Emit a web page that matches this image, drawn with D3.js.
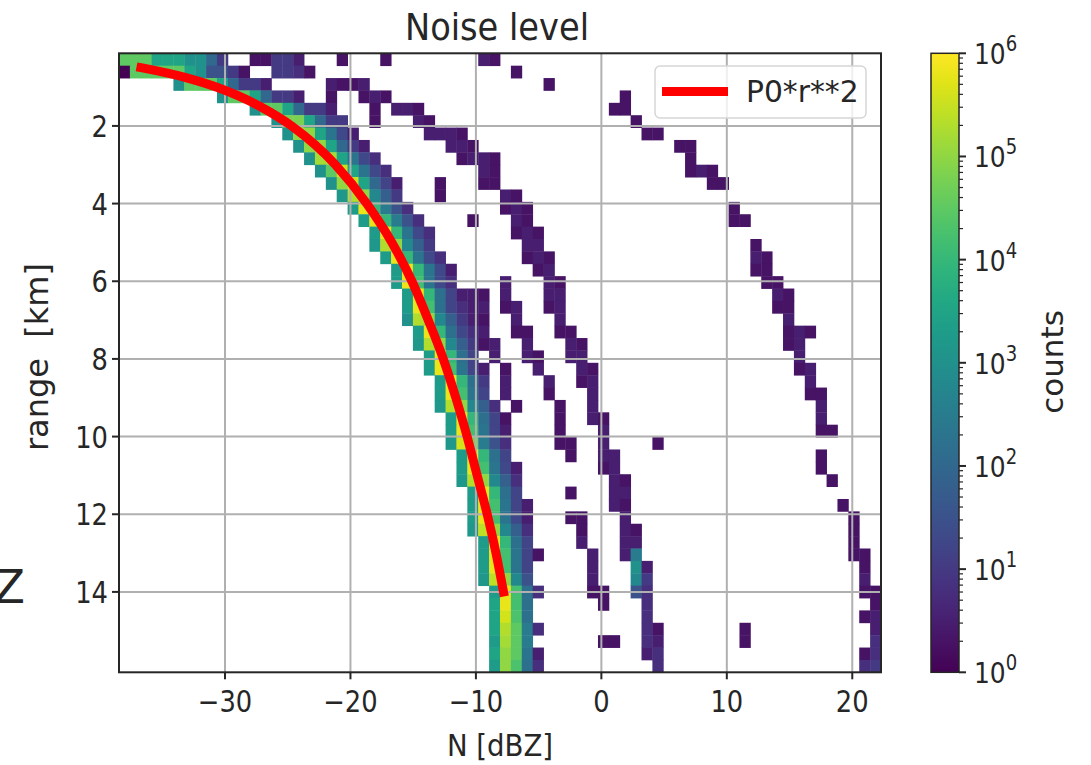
<!DOCTYPE html>
<html><head><meta charset="utf-8">
<script src="https://cdn.jsdelivr.net/npm/d3@7"></script>
<style>
body{margin:0;background:#fff}
text{font-family:"DejaVu Sans",sans-serif;fill:#262626}
</style>
</head><body>
<svg id="chart" width="1091" height="765"></svg>
<script>
// ---------------- data ----------------
const titleText = "Noise level";
const xLabel = "N [dBZ]";
const yLabel = "range  [km]";
const cbarLabel = "counts";
const legendLabel = "P0*r**2";
const nDomain = [-38.45, 22.29];       // N [dBZ] extent of histogram
const rangeDomain = [0.13, 16.07];     // range [km] extent of histogram
const nBinsN = 70, nBinsRange = 50;
const xTicks = [-30, -20, -10, 0, 10, 20];
const yTicks = [2, 4, 6, 8, 10, 12, 14];
const cbarExps = [0, 1, 2, 3, 4, 5, 6];
// log10(counts) per range bin (row), "binIndex:log10count" or "from-to:log10count"
const rowCells = [
 "0-2:4.5 3-5:3.5 6-7:3 8:2 9:1 12:0.3 13:0.3 14:1 15:1 16:0.5 20:0.3 24:0.3 33:0.5 34:0.3",
 "0:0 1-5:4.5 6:3.5 7:3 8-9:1.5 10:1 11:0.3 14:1 15:1 16:0.8 17:0.3 36:0.3",
 "5:3 6-8:4.5 9:3.5 10:2 11-12:1 13:0.5 19:0.5 20-21:0.3 22:0.5 39:0.3",
 "9:3 10-11:4.5 12:3.5 13:2 14-15:1 16:0.5 19:0.3 22:0.3 23:0.5 24:0.3 46:0.3",
 "12:3 13-14:4.5 15:3.5 16:2 17-18:1 19:0.5 23:0.3 25-26:0.5 27:0.3 45-46:0.3",
 "14:3 15-16:4.8 17:3.5 18:2 19-20:1 23:0.3 27:0.5 28:0.3 47:0.3",
 "15:3 16-17:5 18:3.5 19:2.3 20:1.3 21:0.5 28-30:0.5 31:0.3 48-49:0.3",
 "16:3 17-18:5 19:3.5 20:2 21:1 22:0.5 30-31:0.5 32:0.3 51-52:0.3",
 "17:3 18-19:5.2 20:3.5 21:2.3 22:1.3 23:0.8 31:0.3 32-33:0.5 34:0.3 52:0.3",
 "18:3 19:4.5 20:5.5 21:3.5 22:2.3 23:1.3 24:0.8 33:0.5 34:0.3 52:0.3 53:0.5 54:0.3",
 "19:3 20:5 21:5.5 22:3.5 23:2 24:1.2 25:0.5 29:0.3 33-34:0.3 54-55:0.3",
 "20:3.2 21:5.3 22:5 23:2.8 24:1.8 25:1 29:0.3 35:0.5 36:0.3",
 "21:3.3 22:5.8 23:4 24:2.5 25:1.5 26:0.8 35:0.3 36:0.5 37:0.3 56:0.3",
 "22:3.3 23:5.8 24:4 25:2.5 26:1.5 27:0.8 32:0.3 36:0.5 37:0.3 56-57:0.3",
 "23:3.3 24:5.8 25:4 26:2.3 27:1.3 28:0.8 36:0.3 37:0.5 38:0.3",
 "23:3.2 24:5.3 25:5 26:2.8 27:1.8 28:1 37-38:0.5 58:0.3",
 "24:3.3 25:5.8 26:4 27:2.3 28:1.3 29:0.8 37:0.3 38:0.5 39:0.3 58:0.5 59:0.3",
 "25:3.3 26:5.8 27:4 28:2.3 29:1.3 30:0.5 38:0.3 39:0.5 58-59:0.3",
 "25:3.3 26:5.8 27:4.2 28:2.3 29:1.3 30:0.8 35:0.5 39:0.5 40:0.3 59-60:0.3",
 "26:3.3 27:5.8 28:4 29:2.2 30:1.2 31:0.5 32:0.5 33:0.3 35:0.5 39-40:0.5 60:0.5 61:0.3",
 "26:3.3 27:5.8 28:4.2 29:2.2 30:1.2 31:0.8 32-33:0.5 35:0.3 36:0.5 39:0.3 40:0.5 60-61:0.3",
 "26:3 27:5.3 28:5 29:2.8 30:1.8 31:1 32:0.5 33:0.3 36:0.5 40:0.5 61:0.5",
 "27:3.3 28:5.8 29:4 30:2.2 31:1.3 32:0.8 33:0.5 36-37:0.3 40-41:0.3 61:0.3 62:0.5 63:0.3",
 "27:3.2 28:5.3 29:5 30:2.8 31:1.8 32:1 33:0.3 34:0.5 37:0.5 41:0.5 42:0.3 61:0.3 62:0.5",
 "28:3.3 29:5.8 30:4 31:2.2 32:1.2 34:0.5 37:0.5 38:0.3 41-42:0.5 62:0.5",
 "28:3.3 29:5.8 30:4.2 31:2.3 32:1.2 33:0.5 35:0.3 38:0.5 42:0.5 43:0.3 62:0.3 63:0.5",
 "29:3.3 30:5.8 31:4 32:2.2 33:1 35:0.5 39:0.5 42:0.3 43:0.5 63:0.5",
 "29:3.3 30:5.8 31:4.2 32:2.3 33:1.2 35:0.5 39:0.3 43:0.5 63-64:0.3",
 "29:3.2 30:5.3 31:5 32:2.8 33:1.8 34:0.8 36:0.3 40:0.3 43:0.5 64:0.5",
 "30:3.3 31:5.8 32:4 33:2.2 34:1.2 35:0.3 40:0.3 43:0.5 44:0.3 64:0.5",
 "30:3.3 31:5.8 32:4.2 33:2.3 34:1.2 35:0.5 40:0.3 44:0.5 64-65:0.3",
 "30:3.2 31:5.6 32:4.8 33:2.5 34:1.5 35:0.8 40-41:0.3 44:0.5 49:0.3",
 "31:3.3 32:5.8 33:4 34:2.2 35:1.2 41:0.3 44-45:0.5 64:0.3",
 "31:3.3 32:5.8 33:4.2 34:2.3 35:1.3 36:0.5 44:0.3 45:0.5 64:0.3",
 "31:3.2 32:5.3 33:5 34:2.8 35:1.8 36:0.8 45:0.5 46:0.3 65:0.3",
 "32:3.3 33:5.8 34:4 35:2.2 36:1.2 41:0.3 45-46:0.5",
 "32:3.3 33:5.8 34:4.2 35:2.3 36:1.2 37:0.5 45:0.5 46:0.3 66:0.3",
 "32:3.3 33:5.8 34:4.2 35:2.3 36:1.3 37:0.5 41-42:0.3 46:0.5 67:0.3",
 "32:3.2 33:5.4 34:5 35:2.8 36:1.8 37:0.8 42:0.3 46:0.5 47:0.3 67:0.3",
 "33:3.3 34:5.8 35:4 36:2.2 37:1.2 42:0.5 46-47:0.5 67:0.3",
 "33:3.3 34:5.8 35:4.2 36:2.3 37:1.2 38:0.3 43:0.5 46:0.5 47:2.5 67-68:0.3",
 "33:3.3 34:5.8 35:4.2 36:2.3 37:1.2 43:0.5 47:3 48:0.5 68:0.3",
 "33:3.2 34:5.4 35:5 36:2.8 37:1.5 43:0.5 47:2.8 48:1 68:0.5",
 "34:3.3 35:5.8 36:4.2 37:2.2 38:0.8 43-44:0.3 47:1.5 48:0.8 68-69:0.3",
 "34:3.5 35:5.8 36:4.2 37:2.2 44:0.3 48:0.8 69:0.3",
 "34:3.5 35:5.6 36:4.3 37:2.2 48:0.8 68:0.3 69:0.5",
 "34:3.5 35:5.3 36:4.5 37:2.5 38:0.8 48:0.8 49:0.3 57:0.3 69:0.5",
 "34:3.3 35:5.2 36:4.5 37:2.5 44-45:0.3 48:0.8 49:0.5 57:0.3 69:0.8",
 "34:3.5 35:5 36:4.5 37:2.3 38:0.5 48:0.5 49:0.8 68:0.3 69:0.8",
 "34:3.3 35:5 36:4.3 37:2.2 38:0.8 49:0.8 68:0.8 69:1"
];
// fitted curve P0*r**2 (in dB)
const lineRange = [0.5, 0.75, 1, 1.5, 2, 3, 4, 5, 6, 7, 8, 9, 10, 11, 12, 13, 14];
const lineN = [-36.7, -33.2, -30.7, -27.2, -24.7, -21.2, -18.7, -16.7, -15.1, -13.8, -12.6, -11.6, -10.7, -9.9, -9.1, -8.4, -7.8];

// ---------------- layout ----------------
const L = 119, R = 881, T = 53.3, B = 672.3;
const CB = {x0: 931, x1: 959};
const ink = "#262626";

const svg = d3.select("#chart");
const x = d3.scaleLinear().domain(nDomain).range([L, R]);
const y = d3.scaleLinear().domain(rangeDomain).range([T, B]);
const color = d3.scaleSequentialLog(d3.interpolateViridis).domain([1, 1e6]);

const nEdges = d3.range(nBinsN + 1).map(i => nDomain[0] + i * (nDomain[1] - nDomain[0]) / nBinsN);
const rEdges = d3.range(nBinsRange + 1).map(i => rangeDomain[0] + i * (rangeDomain[1] - rangeDomain[0]) / nBinsRange);

const cells = [];
rowCells.forEach((s, iy) => {
  s.trim().split(/\s+/).forEach(tok => {
    const [span, v] = tok.split(":");
    const [a, b] = span.includes("-") ? span.split("-").map(Number) : [Number(span), Number(span)];
    for (let ix = a; ix <= b; ix++) cells.push({ix, iy, lg: +v});
  });
});

function txt(parent, px, py, str, size, anchor, rot, sx) {
  return parent.append("text")
    .attr("transform", `translate(${px},${py})` + (rot ? ` rotate(${rot})` : "") + ` scale(${sx},1)`)
    .attr("text-anchor", anchor || "start")
    .style("font-size", size + "px")
    .style("white-space", "pre")
    .text(str);
}

// cells
svg.append("g").selectAll("rect").data(cells).join("rect")
  .attr("x", d => x(nEdges[d.ix]))
  .attr("y", d => y(rEdges[d.iy]))
  .attr("width", d => x(nEdges[d.ix + 1]) - x(nEdges[d.ix]) + 0.4)
  .attr("height", d => y(rEdges[d.iy + 1]) - y(rEdges[d.iy]) + 0.4)
  .attr("fill", d => color(Math.pow(10, d.lg)));

// grid
const grid = svg.append("g").attr("stroke", "#b0b0b0").attr("stroke-width", 2);
grid.selectAll("line.gx").data(xTicks).join("line")
  .attr("x1", d => x(d)).attr("x2", d => x(d)).attr("y1", T).attr("y2", B);
grid.selectAll("line.gy").data(yTicks).join("line")
  .attr("y1", d => y(d)).attr("y2", d => y(d)).attr("x1", L).attr("x2", R);

// fitted line
const line = d3.line().x((d, i) => x(lineN[i])).y(d => y(d)).curve(d3.curveMonotoneX);
svg.append("path").datum(lineRange)
  .attr("d", line)
  .attr("fill", "none").attr("stroke", "#ff0000").attr("stroke-width", 9)
  .attr("stroke-linecap", "square").attr("stroke-linejoin", "round");

// spines
svg.append("rect").attr("x", L).attr("y", T).attr("width", R - L).attr("height", B - T)
  .attr("fill", "none").attr("stroke", ink).attr("stroke-width", 2);

// axes ticks & labels
const ax = svg.append("g");
xTicks.forEach(v => {
  ax.append("line").attr("x1", x(v)).attr("x2", x(v)).attr("y1", B).attr("y2", B + 7)
    .attr("stroke", ink).attr("stroke-width", 2);
  txt(ax, x(v), 712, v < 0 ? "\u2212" + Math.abs(v) : String(v), 30, "middle", 0, 0.86);
});
yTicks.forEach(v => {
  ax.append("line").attr("y1", y(v)).attr("y2", y(v)).attr("x1", L - 7).attr("x2", L)
    .attr("stroke", ink).attr("stroke-width", 2);
  txt(ax, 108, y(v) + 11, String(v), 30, "end", 0, 0.86);
});
txt(svg, 497, 40, titleText, 37, "middle", 0, 0.91);
txt(svg, 500, 756, xLabel, 31, "middle", 0, 0.89);
txt(svg, 48, 357, yLabel, 32, "middle", -90, 1);

// legend
const lg = svg.append("g");
lg.append("rect").attr("x", 655).attr("y", 66).attr("width", 211).attr("height", 52).attr("rx", 5)
  .attr("fill", "#fff").attr("fill-opacity", 0.8).attr("stroke", "#d6d6d6").attr("stroke-width", 1.5);
lg.append("line").attr("x1", 662).attr("x2", 728).attr("y1", 91.5).attr("y2", 91.5)
  .attr("stroke", "#ff0000").attr("stroke-width", 9);
txt(lg, 746, 102, legendLabel, 31, "start", 0, 0.96);

// colorbar
const defs = svg.append("defs");
const grad = defs.append("linearGradient").attr("id", "vir").attr("x1", 0).attr("x2", 0).attr("y1", 1).attr("y2", 0);
d3.range(0, 1.0001, 0.05).forEach(t => grad.append("stop").attr("offset", t).attr("stop-color", d3.interpolateViridis(t)));
svg.append("rect").attr("x", CB.x0).attr("y", T).attr("width", CB.x1 - CB.x0).attr("height", B - T)
  .attr("fill", "url(#vir)").attr("stroke", ink).attr("stroke-width", 1.5);
const cy = d3.scaleLog().domain([1, 1e6]).range([B, T]);
const cbg = svg.append("g");
cbarExps.forEach(k => {
  const v = Math.pow(10, k);
  cbg.append("line").attr("x1", CB.x1).attr("x2", CB.x1 + 7).attr("y1", cy(v)).attr("y2", cy(v))
    .attr("stroke", ink).attr("stroke-width", 2);
  if (k < 6) d3.range(2, 10).forEach(m => {
    cbg.append("line").attr("x1", CB.x1).attr("x2", CB.x1 + 4).attr("y1", cy(m * v)).attr("y2", cy(m * v))
      .attr("stroke", ink).attr("stroke-width", 1.2);
  });
  const t = txt(cbg, 974, cy(v) + 11, "10", 29, "start", 0, 0.86);
  t.append("tspan").attr("dy", -13).style("font-size", "21px").text(String(k));
});
txt(svg, 1063, 362, cbarLabel, 31, "middle", -90, 1);

// clipped label from neighbouring panel
txt(svg, 25, 603, "Z", 46, "end", 0, 1);
</script>
</body></html>
